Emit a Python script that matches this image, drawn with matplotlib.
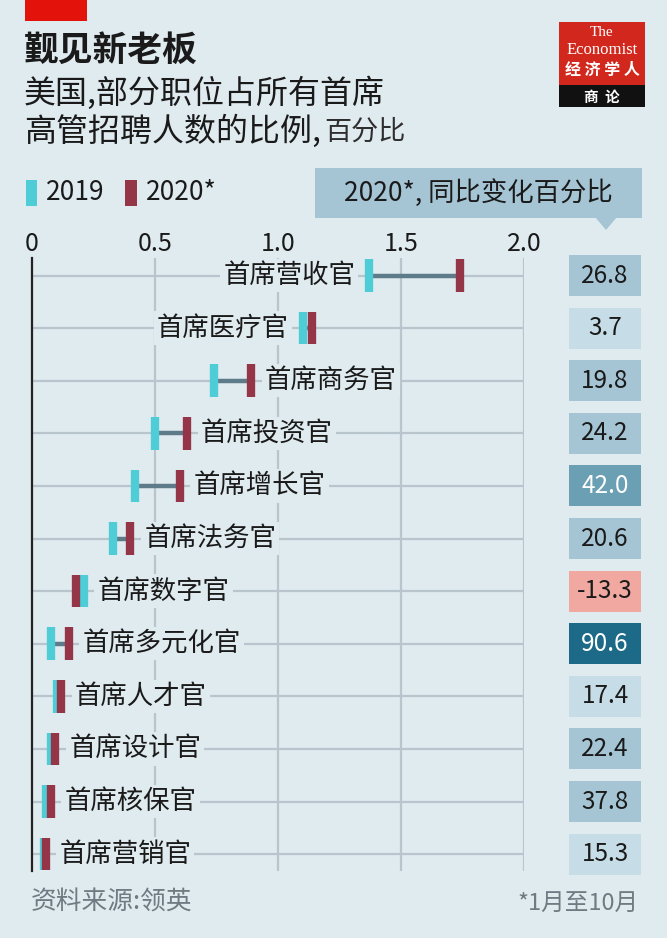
import matplotlib
matplotlib.use('Agg')
import matplotlib.pyplot as plt
import matplotlib.transforms as mtransforms
from matplotlib.patches import Rectangle, Polygon

plt.rcParams['font.family'] = ['Noto Sans CJK SC', 'DejaVu Sans']

# data
roles = ['首席营收官', '首席医疗官', '首席商务官', '首席投资官', '首席增长官', '首席法务官',
         '首席数字官', '首席多元化官', '首席人才官', '首席设计官', '首席核保官', '首席营销官']
share_2019 = [1.37, 1.10, 0.74, 0.50, 0.42, 0.33, 0.21, 0.078, 0.10, 0.078, 0.055, 0.048]
share_2020 = [1.74, 1.14, 0.89, 0.63, 0.60, 0.40, 0.18, 0.149, 0.117, 0.095, 0.076, 0.055]
change = [26.8, 3.7, 19.8, 24.2, 42.0, 20.6, -13.3, 90.6, 17.4, 22.4, 37.8, 15.3]
xticks = [0, 0.5, 1.0, 1.5, 2.0]
xticklabels = ['0', '0.5', '1.0', '1.5', '2.0']

BG = '#e0ebf0'
GRID = '#b9c5cc'
CYAN = '#4ecdd7'
RED = '#943548'
LINK = '#5d7b88'
TXT = '#1a1a1a'

W, H = 667, 938


def fx(px):
    return px / W


def fy(py):
    return 1 - py / H


def box_color(v):
    if v < 0:
        return '#f0a8a0', TXT
    if v >= 60:
        return '#1c6a87', 'white'
    if v >= 40:
        return '#6b9fb4', 'white'
    if v >= 19:
        return '#a5c5d5', TXT
    return '#c6dce6', TXT


fig = plt.figure(figsize=(W / 100, H / 100), dpi=100)
fig.patch.set_facecolor(BG)

# chart area: x 0..2 maps to px 32..524, rows at px 275 + 52.6*i
top_px, bot_px = 258, 871
row_px = 52.6
ax = fig.add_axes([fx(32), fy(bot_px), fx(524) - fx(32), (bot_px - top_px) / H])
ax.set_facecolor(BG)
n = len(roles)
ax.set_xlim(0, 2.0)
ax.set_ylim((bot_px - 275.5) / row_px, (top_px - 275.5) / row_px)

ax.xaxis.tick_top()
ax.set_xticks(xticks)
ax.set_xticklabels(xticklabels, fontsize=18, color=TXT)
ax.tick_params(axis='x', length=0, pad=1)
ax.set_yticks(range(n))
ax.set_yticklabels([])
ax.tick_params(axis='y', length=0)
for s in ['top', 'right', 'bottom']:
    ax.spines[s].set_visible(False)
ax.spines['left'].set_color('#222222')
ax.spines['left'].set_linewidth(1.6)

for xv in xticks[1:]:
    ax.axvline(xv, color=GRID, lw=1.6, zorder=0)
for i in range(n):
    ax.plot([0, 2.0], [i, i], color=GRID, lw=1.6, zorder=0, solid_capstyle='butt')

ys = list(range(n))
ax.hlines(ys, share_2019, share_2020, color=LINK, lw=3.2, zorder=2)
ax.vlines(share_2019, [y - 0.31 for y in ys], [y + 0.31 for y in ys], color=CYAN,
          lw=6, zorder=3, capstyle='butt')
ax.vlines(share_2020, [y - 0.31 for y in ys], [y + 0.31 for y in ys], color=RED,
          lw=6, zorder=4, capstyle='butt')

for i, name in enumerate(roles):
    lo = min(share_2019[i], share_2020[i])
    hi = max(share_2019[i], share_2020[i])
    if lo > 1.0:
        ax.annotate(name, (lo, i), xytext=(-10, 0), textcoords='offset points',
                    ha='right', va='center', fontsize=19, color=TXT, zorder=5,
                    bbox=dict(boxstyle='square,pad=0.12', fc=BG, ec='none'))
    else:
        ax.annotate(name, (hi, i), xytext=(10, 0), textcoords='offset points',
                    ha='left', va='center', fontsize=19, color=TXT, zorder=5,
                    bbox=dict(boxstyle='square,pad=0.12', fc=BG, ec='none'))

# change boxes on the right
tr = mtransforms.blended_transform_factory(fig.transFigure, ax.transData)
bh = 41 / row_px
for i, v in enumerate(change):
    fc, tc = box_color(v)
    ax.add_patch(Rectangle((fx(569), i - bh / 2), fx(641) - fx(569), bh, transform=tr,
                           fc=fc, ec='none', clip_on=False, zorder=1))
    ax.text(fx(605), i, f'{v:.1f}', transform=tr, ha='center', va='center',
            fontsize=17.5, color=tc, clip_on=False)

# header box with pointer
fig.patches.append(Rectangle((fx(315), fy(218)), fx(642) - fx(315), (218 - 168) / H,
                             transform=fig.transFigure, fc='#a5c5d5', ec='none'))
fig.patches.append(Polygon([(fx(595), fy(217)), (fx(617), fy(217)), (fx(606), fy(230))],
                           closed=True, transform=fig.transFigure, fc='#a5c5d5', ec='none'))
fig.text(fx(478), fy(193), '2020*, 同比变化百分比', ha='center', va='center',
         fontsize=19, color=TXT)

# legend
fig.patches.append(Rectangle((fx(26), fy(206)), fx(11), 26 / H, transform=fig.transFigure,
                             fc=CYAN, ec='none'))
fig.text(fx(46), fy(193), '2019', va='center', fontsize=19, color=TXT)
fig.patches.append(Rectangle((fx(125), fy(206)), fx(12), 26 / H, transform=fig.transFigure,
                             fc=RED, ec='none'))
fig.text(fx(146), fy(193), '2020*', va='center', fontsize=19, color=TXT)

# titles
fig.patches.append(Rectangle((fx(25), fy(21)), fx(62), 21 / H, transform=fig.transFigure,
                             fc='#e3120b', ec='none'))
fig.text(fx(24), fy(50), '觐见新老板', va='center', fontsize=25, weight='bold', color=TXT)
fig.text(fx(24), fy(93), '美国,部分职位占所有首席', va='center', fontsize=23, color=TXT)
fig.text(fx(24), fy(131), '高管招聘人数的比例,', va='center', fontsize=23, color=TXT)
fig.text(fx(324), fy(132), '百分比', va='center', fontsize=19.5, color='#2e2e2e',
         weight='light')

# logo
fig.patches.append(Rectangle((fx(559), fy(85)), fx(86), 63 / H, transform=fig.transFigure,
                             fc='#d2271c', ec='none'))
fig.patches.append(Rectangle((fx(559), fy(107)), fx(86), 22 / H, transform=fig.transFigure,
                             fc='#111111', ec='none'))
fig.text(fx(602), fy(33), 'The', ha='center', va='center', fontsize=11, color='white',
         family='Liberation Serif')
fig.text(fx(602), fy(50), 'Economist', ha='center', va='center', fontsize=12,
         color='white', family='Liberation Serif')
fig.text(fx(602), fy(70), '经 济 学 人', ha='center', va='center', fontsize=11.5,
         color='white', weight='bold')
fig.text(fx(602), fy(97), '商  论', ha='center', va='center', fontsize=10.5, color='white',
         weight='bold')

# footer
fig.text(fx(31), fy(903), '资料来源:领英', va='center', fontsize=18.5, color='#6e7b82')
fig.text(fx(639), fy(903), '*1月至10月', ha='right', va='center', fontsize=17,
         color='#6e7b82')

fig.savefig('out.png', dpi=100, facecolor=BG)
